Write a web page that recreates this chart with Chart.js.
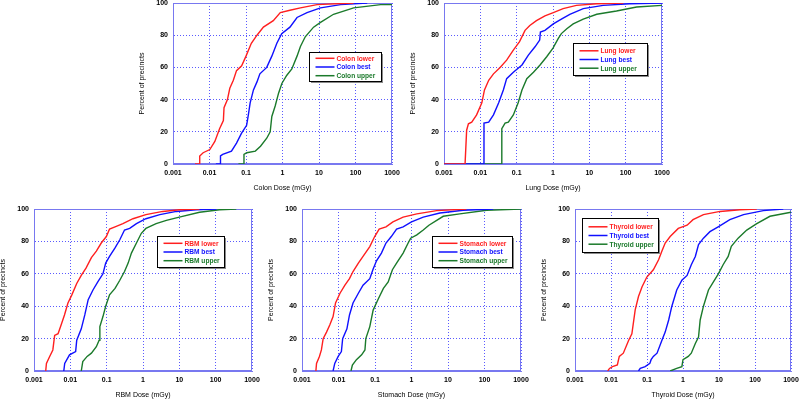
<!DOCTYPE html>
<html>
<head>
<meta charset="utf-8">
<script src="https://cdn.jsdelivr.net/npm/chart.js@4/dist/chart.umd.min.js"></script>
<style>
  html, body { margin: 0; padding: 0; background: #fff; }
  body { width: 800px; height: 399px; position: relative; overflow: hidden; }
  canvas { position: absolute; }
</style>
</head>
<body>
<canvas id="colon"></canvas>
<canvas id="lung"></canvas>
<canvas id="rbm"></canvas>
<canvas id="stomach"></canvas>
<canvas id="thyroid"></canvas>
<script>
// tick values / labels
const xTickValues = [0.001, 0.01, 0.1, 1, 10, 100, 1000];
const xTickLabels = ["0.001", "0.01", "0.1", "1", "10", "100", "1000"];
const yTickValues = [0, 20, 40, 60, 80, 100];

// Colon
const colonLowerDose = [0.0040, 0.0054, 0.0054, 0.0067, 0.0102, 0.014, 0.019, 0.024, 0.025, 0.031, 0.036, 0.045, 0.055, 0.076, 0.10, 0.14, 0.20, 0.30, 0.56, 0.87, 1.6, 3.1, 8.8, 89];
const colonLowerPct  = [0, 0, 5, 7, 9, 14, 22, 27, 35, 40, 47, 52, 58, 61, 67, 75, 80, 85, 89, 94, 95.5, 97, 99, 100];
const colonBestDose  = [0.015, 0.020, 0.020, 0.023, 0.040, 0.055, 0.075, 0.104, 0.116, 0.13, 0.16, 0.20, 0.24, 0.37, 0.51, 0.70, 0.95, 1.6, 2.5, 4.7, 11, 39, 210];
const colonBestPct   = [0, 0, 5, 6, 8, 13, 19, 24, 30.5, 38, 46, 51, 56, 60, 67, 75, 81, 85, 91, 94, 97, 99, 100];
const colonUpperDose = [0.062, 0.088, 0.088, 0.105, 0.18, 0.25, 0.37, 0.46, 0.51, 0.63, 0.78, 0.96, 1.3, 1.8, 2.5, 3.1, 4.2, 7.1, 11, 25, 89, 490, 1000];
const colonUpperPct  = [0, 0, 6, 7, 8, 11, 16, 20, 29.5, 36, 44, 50, 55, 59, 67, 73, 79, 85, 88, 93, 97, 99, 99];

// Lung
const lungLowerDose = [0.001, 0.0038, 0.0042, 0.0047, 0.0058, 0.0079, 0.011, 0.013, 0.017, 0.023, 0.035, 0.053, 0.081, 0.12, 0.17, 0.23, 0.35, 0.60, 1.02, 1.9, 4.4, 16, 87];
const lungLowerPct  = [0, 0, 21, 25, 26, 30.5, 38, 46, 52, 56, 60, 64.5, 70.7, 76, 83, 86, 89, 92, 94, 96.5, 98.5, 99.5, 100];
const lungBestDose  = [0.001, 0.0126, 0.0126, 0.017, 0.023, 0.032, 0.043, 0.053, 0.081, 0.14, 0.21, 0.32, 0.43, 0.45, 0.60, 1.02, 1.7, 2.9, 6.8, 24, 130, 1000];
const lungBestPct   = [0, 0, 25.4, 26, 30.5, 38, 46, 53, 57, 61.5, 67.6, 72.8, 77, 82, 83, 87, 90, 93, 96.5, 98.5, 99.5, 100];
const lungUpperDose = [0.001, 0.039, 0.039, 0.048, 0.059, 0.081, 0.11, 0.14, 0.19, 0.29, 0.44, 0.67, 1.0, 1.4, 1.7, 2.4, 3.6, 6.8, 16, 56, 200, 1000];
const lungUpperPct  = [0, 0, 22, 25.4, 26, 30.5, 38, 46, 53, 57, 61.5, 66.6, 72, 78, 81, 84, 87, 90, 93, 95, 97.5, 98.5];

// RBM
const rbmLowerDose = [0.0021, 0.0022, 0.0027, 0.0033, 0.0037, 0.0046, 0.0056, 0.0069, 0.0086, 0.011, 0.015, 0.020, 0.027, 0.038, 0.052, 0.071, 0.098, 0.12, 0.17, 0.28, 0.53, 1.2, 3.5, 10, 36];
const rbmLowerPct  = [0, 4.7, 9, 13, 22, 23, 28.5, 34.6, 42, 47, 54, 59, 63.5, 70, 74, 79, 83, 87.6, 89, 91, 94, 96.5, 98.5, 99.5, 100];
const rbmBestDose  = [0.0066, 0.0070, 0.0095, 0.014, 0.015, 0.020, 0.025, 0.031, 0.042, 0.057, 0.079, 0.094, 0.12, 0.17, 0.23, 0.31, 0.43, 0.66, 1.2, 2.9, 8.3, 29, 105];
const rbmBestPct   = [0, 4.7, 10, 12, 19, 26, 34.6, 44, 50, 55, 60, 66.6, 70.7, 76, 81, 87, 88, 91, 94, 96.5, 98.5, 99.5, 100];
const rbmUpperDose = [0.020, 0.022, 0.029, 0.038, 0.052, 0.062, 0.065, 0.079, 0.094, 0.12, 0.17, 0.23, 0.31, 0.39, 0.48, 0.66, 0.90, 1.2, 2.3, 4.4, 10, 36, 128, 370];
const rbmUpperPct  = [0, 5.8, 9, 11, 15, 19, 27.4, 33.6, 40, 47, 51, 56, 61.4, 66.6, 72.8, 79, 85, 88, 91, 93, 95, 98, 99.5, 100];

// Stomach
const stomachLowerDose = [0.0024, 0.0025, 0.0030, 0.0034, 0.0038, 0.0047, 0.0058, 0.0071, 0.0083, 0.011, 0.015, 0.020, 0.025, 0.035, 0.047, 0.072, 0.098, 0.13, 0.20, 0.31, 0.59, 1.4, 4.9, 32];
const stomachLowerPct  = [0, 4.7, 9, 13, 20, 24, 28.5, 33.6, 42, 48, 53, 57, 61.4, 66.6, 70.7, 76.8, 83, 87.6, 89, 92, 95, 97, 99, 100];
const stomachBestDose  = [0.0071, 0.0079, 0.0098, 0.012, 0.013, 0.017, 0.020, 0.025, 0.035, 0.047, 0.072, 0.089, 0.11, 0.15, 0.20, 0.28, 0.39, 0.59, 1.0, 2.1, 6.0, 26, 173];
const stomachBestPct   = [0, 4.7, 9, 12, 20, 26, 34.6, 42, 48, 53, 57, 63, 68, 72.8, 79, 83, 87.6, 89, 92, 95, 97.5, 99.2, 100];
const stomachUpperDose = [0.022, 0.024, 0.031, 0.043, 0.053, 0.056, 0.072, 0.089, 0.12, 0.17, 0.23, 0.30, 0.39, 0.59, 0.81, 0.95, 1.4, 2.1, 3.0, 7.4, 21, 114, 1000];
const stomachUpperPct  = [0, 3.7, 7, 10, 13, 20, 27.4, 37.6, 44, 51, 55, 62.5, 66.6, 72.8, 79, 82, 84, 87, 90, 95.5, 97, 99.2, 100];

// Thyroid
const thyroidLowerDose = [0.0081, 0.0091, 0.011, 0.015, 0.017, 0.022, 0.031, 0.038, 0.047, 0.058, 0.073, 0.099, 0.15, 0.21, 0.26, 0.32, 0.44, 0.74, 1.3, 1.9, 3.7, 10.7, 38, 112];
const thyroidLowerPct  = [0, 1.6, 2.7, 3.7, 9, 11, 19, 23, 37.7, 46, 52, 58, 62.5, 68.7, 74, 79, 83, 88, 90, 93.4, 96.5, 98.5, 99.5, 100];
const thyroidBestDose  = [0.058, 0.065, 0.089, 0.12, 0.13, 0.15, 0.19, 0.26, 0.32, 0.40, 0.49, 0.67, 0.93, 1.3, 1.7, 2.2, 2.7, 3.7, 5.6, 9.5, 20, 48, 170, 610];
const thyroidBestPct   = [0, 1.6, 2.7, 4.7, 7, 9, 11, 19, 24, 31.5, 40, 50, 56, 59, 65.6, 70.7, 78, 82, 86, 89, 93.4, 96.5, 99, 100];
const thyroidUpperDose = [0.44, 0.67, 0.93, 1.0, 1.4, 1.7, 2.2, 2.7, 3.0, 3.7, 5.1, 7.0, 9.6, 13, 18, 22, 34, 59, 112, 260, 1000];
const thyroidUpperPct  = [0, 1.6, 2.7, 7, 9, 11, 17, 21, 31.5, 40, 50, 55, 60, 65.6, 70.7, 77, 82, 87, 91, 95.5, 98];

const RED = "#ff1f1f", BLUE = "#1010ff", GREEN = "#1b7a2b";
const GRID = "#5a5aff", FRAME = "#7878f0";
const FONT = '"Liberation Sans", Arial, sans-serif';
Chart.defaults.font.family = FONT;
Chart.defaults.color = "#000";

const Y_AXIS_W = 35, X_AXIS_H = 28, PAD_TOP = 6, PAD_RIGHT = 14;

function pts(dose, pct) {
  return dose.map((d, i) => ({ x: d, y: pct[i] }));
}

// frame round the plot + legend box inside the plot
const boxLegend = {
  id: "boxLegend",
  beforeDatasetsDraw(chart) {
    const { ctx, chartArea: a } = chart;
    ctx.save();
    ctx.strokeStyle = FRAME;
    ctx.lineWidth = 1;
    ctx.strokeRect(a.left + 0.5, a.top + 0.5, a.right - a.left - 1, a.bottom - a.top - 1);
    ctx.restore();
  },
  afterDatasetsDraw(chart, args, opts) {
    const { ctx, chartArea: a } = chart;
    const x = Math.round(a.left + opts.dx) + 0.5;
    const y = Math.round(a.top + opts.dy) + 0.5;
    const w = opts.w, h = opts.h;
    ctx.save();
    ctx.fillStyle = "#8a8a8a";
    ctx.fillRect(x + 1.5, y + 1.5, w, h);
    ctx.fillStyle = "#fff";
    ctx.fillRect(x, y, w, h);
    ctx.strokeStyle = "#000";
    ctx.lineWidth = 1;
    ctx.strokeRect(x, y, w, h);
    ctx.font = "bold 6.6px " + FONT;
    ctx.textBaseline = "middle";
    const gap = 8.7;
    chart.data.datasets.forEach((ds, i) => {
      const ry = y + h / 2 + (i - 1) * gap;
      ctx.strokeStyle = ds.borderColor;
      ctx.lineWidth = 1.5;
      ctx.beginPath();
      ctx.moveTo(x + 6, ry);
      ctx.lineTo(x + 25, ry);
      ctx.stroke();
      ctx.fillStyle = ds.borderColor;
      ctx.fillText(ds.label, x + 27, ry + 0.5);
    });
    ctx.restore();
  }
};

function makePanel(id, organ, plot, legend, series) {
  const cv = document.getElementById(id);
  const w = plot.r - plot.l + Y_AXIS_W + PAD_RIGHT;
  const h = plot.b - plot.t + PAD_TOP + X_AXIS_H;
  cv.width = w;
  cv.height = h;
  cv.style.left = (plot.l - Y_AXIS_W) + "px";
  cv.style.top = (plot.t - PAD_TOP) + "px";
  const names = ["lower", "best", "upper"];
  const colors = [RED, BLUE, GREEN];
  return new Chart(cv, {
    type: "line",
    data: {
      datasets: series.map((s, i) => ({
        label: organ + " " + names[i],
        data: pts(s[0], s[1]),
        borderColor: colors[i],
        backgroundColor: colors[i],
        borderWidth: 1.4,
        pointRadius: 0,
        tension: 0,
        fill: false,
      })),
    },
    options: {
      responsive: false,
      animation: false,
      events: [],
      layout: { padding: { top: PAD_TOP, right: PAD_RIGHT, left: 0, bottom: 0 } },
      plugins: {
        legend: { display: false },
        tooltip: { enabled: false },
        boxLegend: legend,
      },
      scales: {
        x: {
          type: "logarithmic",
          min: 0.001,
          max: 1000,
          afterBuildTicks: (s) => { s.ticks = xTickValues.map((v) => ({ value: v })); },
          afterFit: (s) => { s.height = X_AXIS_H; s.paddingLeft = 0; s.paddingRight = 0; },
          ticks: {
            autoSkip: false,
            maxRotation: 0,
            padding: 5,
            font: { size: 7, weight: "bold" },
            callback: (v) => xTickLabels[xTickValues.indexOf(v)] ?? "",
          },
          grid: { color: GRID, lineWidth: 1, drawTicks: false },
          border: { display: true, color: FRAME, dash: [1, 2] },
          title: { display: true, text: organ + " Dose (mGy)", font: { size: 7 }, padding: 0 },
        },
        y: {
          min: 0,
          max: 100,
          afterBuildTicks: (s) => { s.ticks = yTickValues.map((v) => ({ value: v })); },
          afterFit: (s) => { s.width = Y_AXIS_W; s.paddingTop = 0; s.paddingBottom = 0; },
          ticks: { padding: 5, font: { size: 7, weight: "bold" } },
          grid: { color: GRID, lineWidth: 1, drawTicks: false },
          border: { display: true, color: FRAME, dash: [1, 2] },
          title: { display: true, text: "Percent of precincts", font: { size: 7 }, padding: 0 },
        },
      },
    },
    plugins: [boxLegend],
  });
}

makePanel("colon", "Colon", { l: 173, r: 392, t: 3, b: 164 },
  { dx: 136, dy: 49, w: 72, h: 29 },
  [[colonLowerDose, colonLowerPct], [colonBestDose, colonBestPct], [colonUpperDose, colonUpperPct]]);

makePanel("lung", "Lung", { l: 444, r: 662, t: 3, b: 164 },
  { dx: 129, dy: 40, w: 74, h: 32 },
  [[lungLowerDose, lungLowerPct], [lungBestDose, lungBestPct], [lungUpperDose, lungUpperPct]]);

makePanel("rbm", "RBM", { l: 34, r: 252, t: 209, b: 371 },
  { dx: 123, dy: 27, w: 67, h: 31 },
  [[rbmLowerDose, rbmLowerPct], [rbmBestDose, rbmBestPct], [rbmUpperDose, rbmUpperPct]]);

makePanel("stomach", "Stomach", { l: 302, r: 521, t: 209, b: 371 },
  { dx: 130, dy: 27, w: 80, h: 31 },
  [[stomachLowerDose, stomachLowerPct], [stomachBestDose, stomachBestPct], [stomachUpperDose, stomachUpperPct]]);

makePanel("thyroid", "Thyroid", { l: 575, r: 791, t: 209, b: 371 },
  { dx: 7, dy: 9, w: 76, h: 34 },
  [[thyroidLowerDose, thyroidLowerPct], [thyroidBestDose, thyroidBestPct], [thyroidUpperDose, thyroidUpperPct]]);
</script>
</body>
</html>
